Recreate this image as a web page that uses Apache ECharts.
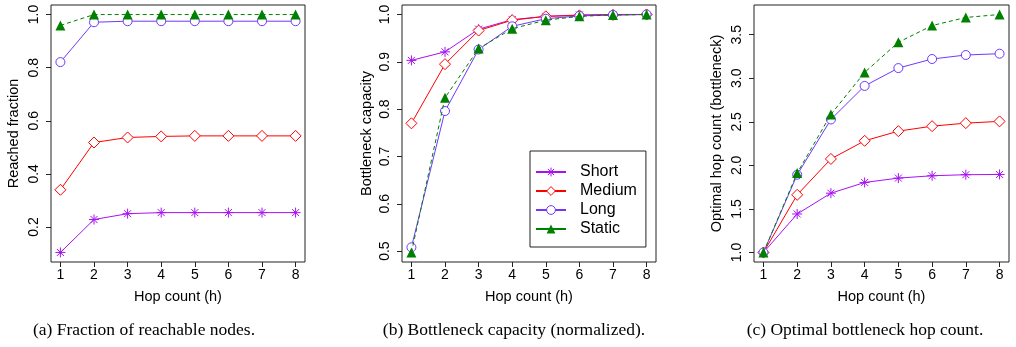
<!DOCTYPE html>
<html>
<head>
<meta charset="utf-8">
<script src="https://cdn.jsdelivr.net/npm/echarts@6/dist/echarts.min.js"></script>
<style>
  html, body { margin: 0; padding: 0; background: #fff; }
  #chart { width: 1016px; height: 347px; }
</style>
</head>
<body>
<div id="chart"></div>
<script>
const hops = [1, 2, 3, 4, 5, 6, 7, 8]
const seriesNames = ['Short', 'Medium', 'Long', 'Static']

// (a) fraction of reachable nodes
const reachedShort = [0.104, 0.228, 0.250, 0.254, 0.254, 0.254, 0.254, 0.254]
const reachedMedium = [0.340, 0.518, 0.537, 0.541, 0.543, 0.543, 0.543, 0.543]
const reachedLong = [0.821, 0.971, 0.975, 0.975, 0.975, 0.975, 0.975, 0.975]
const reachedStatic = [0.959, 1.0, 1.0, 1.0, 1.0, 1.0, 1.0, 1.0]

// (b) bottleneck capacity (normalized)
const capShort = [0.903, 0.921, 0.969, 0.989, 0.996, 0.999, 1.0, 1.0]
const capMedium = [0.770, 0.895, 0.966, 0.988, 0.996, 0.998, 0.999, 1.0]
const capLong = [0.508, 0.796, 0.926, 0.975, 0.991, 0.997, 0.999, 1.0]
const capStatic = [0.497, 0.824, 0.928, 0.970, 0.988, 0.996, 0.999, 1.0]

// (c) optimal bottleneck hop count
const optShort = [1.0, 1.442, 1.681, 1.804, 1.854, 1.881, 1.893, 1.896]
const optMedium = [1.0, 1.662, 2.074, 2.282, 2.393, 2.450, 2.485, 2.505]
const optLong = [1.0, 1.893, 2.527, 2.912, 3.117, 3.221, 3.267, 3.282]
const optStatic = [1.0, 1.912, 2.585, 3.067, 3.413, 3.605, 3.698, 3.732]

const yTicksA = [0.2, 0.4, 0.6, 0.8, 1.0]
const yTicksB = [0.5, 0.6, 0.7, 0.8, 0.9, 1.0]
const yTicksC = [1.0, 1.5, 2.0, 2.5, 3.0, 3.5]

const captions = [
  '(a) Fraction of reachable nodes.',
  '(b) Bottleneck capacity (normalized).',
  '(c) Optimal bottleneck hop count.'
]

const colors = {
  Short: '#a811f5',
  Medium: '#ff0000',
  Long: '#7038ff',
  Static: '#008000'
}
const SANS = '"Liberation Sans", Arial, sans-serif'
const FRAME = '#222'

const chart = echarts.init(document.getElementById('chart'))

const panels = [
  { data: [reachedShort, reachedMedium, reachedLong, reachedStatic], yMin: 0.068, yMax: 1.036, ticks: yTicksA, title: 'Reached fraction', left: 51, width: 254, nameGap: 30 },
  { data: [capShort, capMedium, capLong, capStatic], yMin: 0.477, yMax: 1.020, ticks: yTicksB, title: 'Bottleneck capacity', left: 402, width: 254, nameGap: 28 },
  { data: [optShort, optMedium, optLong, optStatic], yMin: 0.891, yMax: 3.841, ticks: yTicksC, title: 'Optimal hop count (bottleneck)', left: 754, width: 255, nameGap: 30 }
]

// R-style plotting symbols: asterisk, open diamond, open circle, filled triangle
const symbolFor = {
  Short: { symbol: 'path://M0 5L10 5M5 0L5 10M1.5 1.5L8.5 8.5M1.5 8.5L8.5 1.5', symbolSize: 10, itemStyle: { color: 'rgba(0,0,0,0)', borderColor: colors.Short, borderWidth: 1 } },
  Medium: { symbol: 'diamond', symbolSize: 11, itemStyle: { color: '#fff', borderColor: colors.Medium, borderWidth: 1 } },
  Long: { symbol: 'circle', symbolSize: 9, itemStyle: { color: '#fff', borderColor: colors.Long, borderWidth: 1 } },
  Static: { symbol: 'triangle', symbolSize: 10, itemStyle: { color: colors.Static, borderWidth: 0 } }
}

const grids = panels.map(p => ({
  left: p.left, top: 5, width: p.width, height: 257,
  show: true, borderColor: FRAME, borderWidth: 1, backgroundColor: 'transparent'
}))

const xAxes = panels.map((p, i) => ({
  gridIndex: i,
  type: 'value',
  min: 0.72,
  max: 8.28,
  name: 'Hop count (h)',
  nameLocation: 'middle',
  nameGap: 27,
  nameTextStyle: { fontSize: 14.5, color: '#000', fontFamily: SANS },
  axisLine: { show: false, onZero: false },
  splitLine: { show: false },
  axisTick: { show: true, customValues: hops, length: 5, lineStyle: { color: FRAME } },
  axisLabel: { customValues: hops, fontSize: 14, color: '#000', margin: 6, fontFamily: SANS }
}))

const yAxes = panels.map((p, i) => ({
  gridIndex: i,
  type: 'value',
  min: p.yMin,
  max: p.yMax,
  name: p.title,
  nameLocation: 'middle',
  nameRotate: 90,
  nameGap: p.nameGap,
  nameTextStyle: { fontSize: 14.5, color: '#000', fontFamily: SANS },
  axisLine: { show: false, onZero: false },
  splitLine: { show: false },
  axisTick: { show: true, customValues: p.ticks, length: 5, lineStyle: { color: FRAME } },
  axisLabel: {
    customValues: p.ticks, rotate: 90, fontSize: 14, color: '#000', margin: 10, fontFamily: SANS,
    formatter: v => v.toFixed(1)
  }
}))

const series = []
panels.forEach((p, i) => {
  seriesNames.forEach((name, k) => {
    series.push({
      name,
      type: 'line',
      xAxisIndex: i,
      yAxisIndex: i,
      data: hops.map((h, j) => [h, p.data[k][j]]),
      ...symbolFor[name],
      showAllSymbol: true,
      lineStyle: { color: colors[name], width: 1, type: name === 'Static' ? [4, 3] : 'solid' },
      z: 2 + k
    })
  })
})

const option = {
  animation: false,
  backgroundColor: '#fff',
  grid: grids,
  xAxis: xAxes,
  yAxis: yAxes,
  legend: {
    data: seriesNames.map(n => n === 'Static' ? { name: n, lineStyle: { type: 'solid' } } : n),
    orient: 'vertical',
    left: 530,
    top: 151,
    padding: [13, 9, 10, 5],
    itemGap: 3,
    itemWidth: 30,
    itemHeight: 11,
    itemStyle: { borderWidth: 1 },
    borderColor: FRAME,
    borderWidth: 1,
    backgroundColor: '#fff',
    textStyle: { fontSize: 16, color: '#000', fontFamily: SANS, padding: [0, 0, 0, 9] },
    selectedMode: false
  },
  graphic: [
    { x: 144, y: 330, text: captions[0] },
    { x: 514, y: 330, text: captions[1] },
    { x: 865, y: 330, text: captions[2] }
  ].map(c => ({
    type: 'text', x: c.x, y: c.y, silent: true,
    style: {
      text: c.text, fill: '#000', align: 'center', verticalAlign: 'middle',
      font: '17.5px "Liberation Serif", "Times New Roman", serif'
    }
  })),
  series
}

chart.setOption(option)
</script>
</body>
</html>
